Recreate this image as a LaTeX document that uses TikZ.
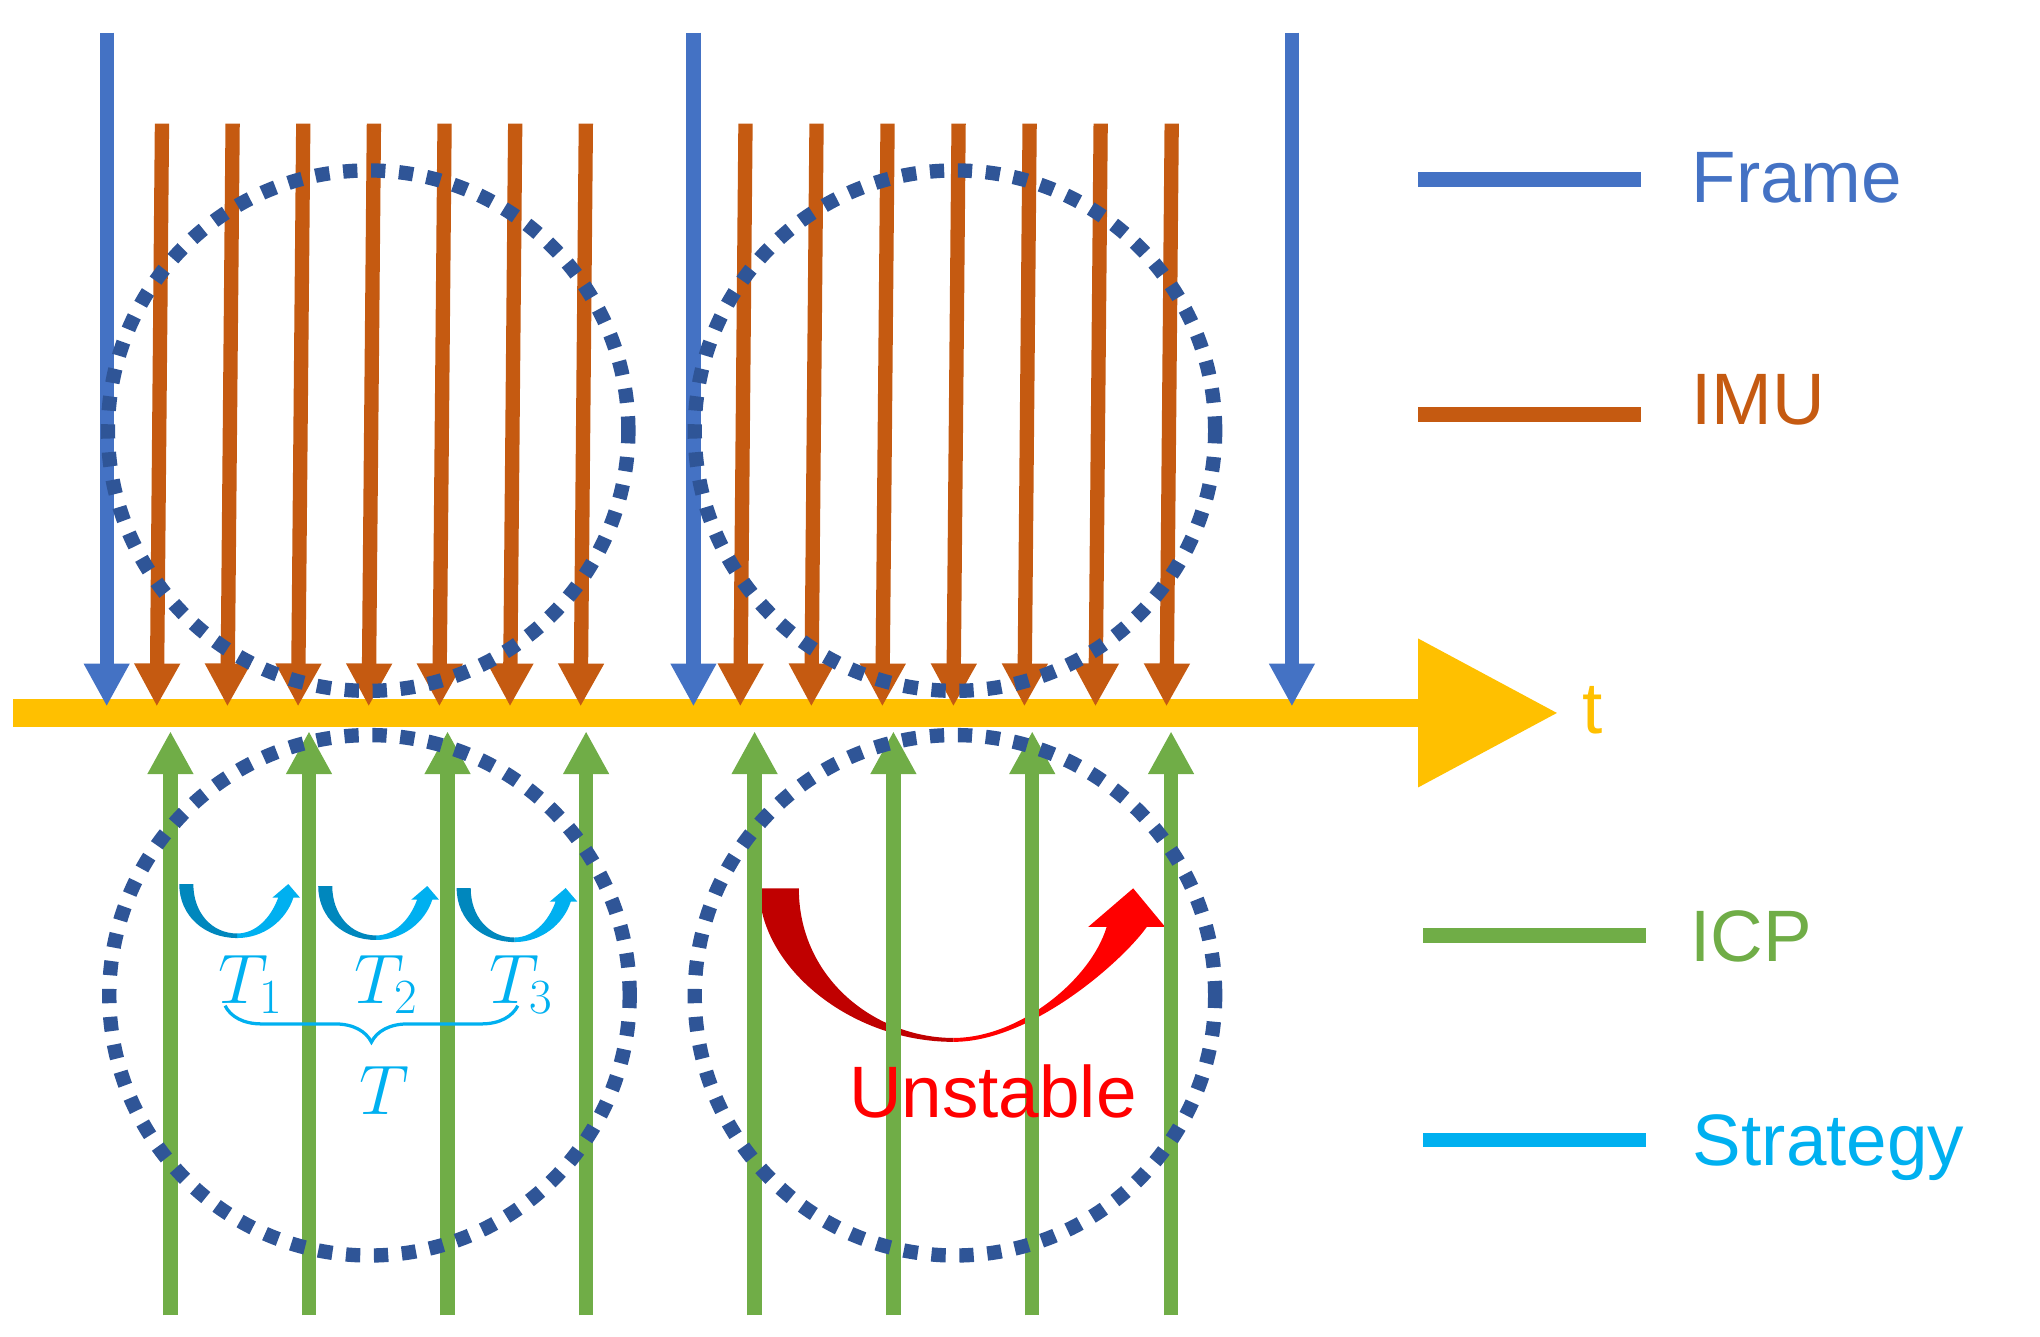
\documentclass[tikz,border=0pt]{standalone}
\usepackage{fix-cm}
\usepackage{fontspec}
\setmainfont{Liberation Sans}
\usetikzlibrary{arrows.meta,decorations.pathreplacing,calc}

\definecolor{framecol}{HTML}{4472C4}
\definecolor{imucol}{HTML}{C55A11}
\definecolor{axiscol}{HTML}{FFC000}
\definecolor{icpcol}{HTML}{70AD47}
\definecolor{stratcol}{HTML}{00B0F0}
\definecolor{stratdark}{HTML}{0087BD}
\definecolor{circcol}{HTML}{2F5597}
\definecolor{redlight}{HTML}{FF0000}
\definecolor{reddark}{HTML}{C00000}

\tikzset{
	stratarc/.pic={
		\fill[stratcol] (44.5,41.5) .. controls (65,41.5) and (82,28) .. (87.7,10.5) -- (92.8,10.5) -- (83.8,0) -- (71.5,10.5) -- (76,10.5) .. controls (70,27) and (58,38) .. (44.5,38) -- cycle;
		\fill[stratdark] (0,0) .. controls (0,25) and (20,41.5) .. (44.5,41.5) -- (44.5,38) .. controls (25,38) and (10.8,22) .. (10.8,0) -- cycle;
	}
}

\begin{document}
\begin{tikzpicture}[
x=1pt, y=-1pt,
tip/.style={-{Triangle[length=33pt,width=33pt]}},
frame/.style={tip, framecol, line width=11pt},
imu/.style={tip, imucol, line width=11pt},
icp/.style={tip, icpcol, line width=11pt},
legline/.style={line width=11pt},
dotcirc/.style={circcol, line width=11pt, dash pattern=on 11pt off 10.5pt},
lab/.style={anchor=base west, inner sep=0pt, font=\fontsize{56}{60}\selectfont},
mathlab/.style={anchor=base west, inner sep=0pt, text=stratcol, font=\fontsize{54}{58}\selectfont},
]
	\useasboundingbox (0,0) rectangle (1568,1027);

	% time axis
	\coordinate (t0) at (10,548);
	\coordinate (t1) at (1198,548);
	\draw[axiscol, line width=22pt, -{Triangle[length=108pt,width=108pt]}] (t0) -- (t1);
	\node[lab, text=axiscol] (tlab) at (1216,563.6) {t};

	% strategy and unstable arrows (behind the ICP lines)
	\foreach \x/\y in {137.8/679.5, 244.6/681, 351/682.6}
		\pic at (\x,\y) {stratarc};
	\begin{scope}[shift={(583.6,682.8)}]
		\fill[redlight] (149.2,118) .. controls (210,118) and (280,55) .. (297.9,29.6) -- (311.9,29.6) -- (287.4,0) -- (252.9,29.6) -- (267,29.6) .. controls (255,70) and (200,115) .. (149.2,115) -- cycle;
		\fill[reddark] (0,0) .. controls (0,60) and (70,118) .. (149.2,118) -- (149.2,115) .. controls (90,115) and (30.4,70) .. (30.4,0) -- cycle;
	\end{scope}

	% frames
	\foreach \n/\x in {1/82, 2/533, 3/993}{
		\coordinate (frtop\n) at (\x,25);
		\coordinate (frtip\n) at (\x,543);
		\draw[frame] (frtop\n) -- (frtip\n);
	}

	% imu
	\foreach \i in {0,...,6}{
		\pgfmathsetmacro{\xa}{120.5+54.3*\i}
		\pgfmathsetmacro{\xb}{569+54.6*\i}
		\coordinate (imutopA\i) at (\xa+4,95);
		\coordinate (imutipA\i) at (\xa,543);
		\coordinate (imutopB\i) at (\xb+4,95);
		\coordinate (imutipB\i) at (\xb,543);
		\draw[imu] (imutopA\i) -- (imutipA\i);
		\draw[imu] (imutopB\i) -- (imutipB\i);
	}

	% icp
	\foreach \i in {0,...,3}{
		\pgfmathsetmacro{\xa}{131+106.5*\i}
		\pgfmathsetmacro{\xb}{580+106.7*\i}
		\coordinate (icpbotA\i) at (\xa,1011);
		\coordinate (icptipA\i) at (\xa,562);
		\coordinate (icpbotB\i) at (\xb,1011);
		\coordinate (icptipB\i) at (\xb,562);
		\draw[icp] (icpbotA\i) -- (icptipA\i);
		\draw[icp] (icpbotB\i) -- (icptipB\i);
	}

	% T_1 T_2 T_3 and the brace
	\node[mathlab] (ta) at (168,771) {$T_1$};
	\node[mathlab] (tb) at (272,771) {$T_2$};
	\node[mathlab] (tc) at (376,771) {$T_3$};
	\coordinate (brl) at (173,773);
	\coordinate (brr) at (398,773);
	\draw[stratcol, line width=2.5pt, decorate, decoration={brace, amplitude=28pt, mirror}] (brl) -- (brr);
	\node[mathlab] (tsum) at (276,857) {$T$};
	\node[lab, text=redlight] (unst) at (652.5,858.6) {Unstable};

	% dotted windows
	\foreach \cx/\cy in {283/331, 734/331, 284/765, 734/765}
		\draw[dotcirc] (\cx,\cy) circle[radius=200pt];

	% legend
	\foreach \nm/\c/\y/\xa in {fr/framecol/138/1090, imu/imucol/318.6/1090, icp/icpcol/719/1094, strat/stratcol/876/1094}{
		\coordinate (lg\nm L) at (\xa,\y);
		\coordinate (lg\nm R) at (\xa+171,\y);
		\draw[legline, \c] (lg\nm L) -- (lg\nm R);
	}
	\node[lab, text=framecol] (frlab) at (1300,155.8) {Frame};
	\node[lab, text=imucol] (imulab) at (1300,326) {IMU};
	\node[lab, text=icpcol] (icplab) at (1299,739) {ICP};
	\node[lab, text=stratcol] (stratlab) at (1301,896) {Strategy};
\end{tikzpicture}
\end{document}
